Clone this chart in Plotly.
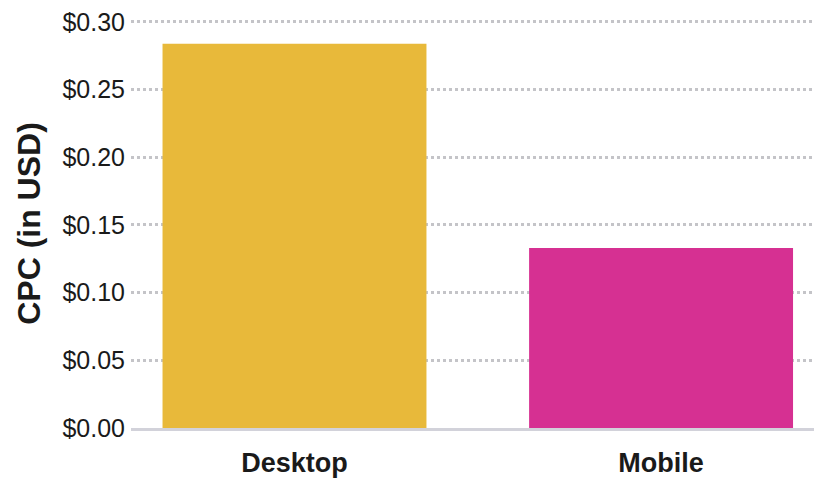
import plotly.graph_objects as go

devices = ['Desktop', 'Mobile']
cpc = [0.284, 0.133]
bar_colors = ['#E8B93A', '#D63092']
y_ticks = [0, 0.05, 0.10, 0.15, 0.20, 0.25, 0.30]

fig = go.Figure(go.Bar(x=devices, y=cpc, marker=dict(color=bar_colors, line=dict(width=0)),
                       width=0.72))

# page body has an 8px margin, so the figure is a bit smaller and shifted
fig.update_layout(
    width=814, height=471,
    margin=dict(l=123, r=0, t=11, b=51, autoexpand=False),
    plot_bgcolor='white', paper_bgcolor='white',
    showlegend=False,
    font=dict(family='Liberation Sans, Arial, sans-serif', color='#1a1a1a'),
)

fig.update_yaxes(
    range=[0, 0.3022], tickvals=y_ticks,
    ticktext=[f'${v:.2f}' for v in y_ticks],
    tickfont=dict(size=25), ticklabeloverflow='allow',
    showgrid=True, gridcolor='#c4c4c8', gridwidth=2.5, griddash='dot',
    zeroline=False, showline=False,
    ticks='', ticklabelstandoff=5,
    title=dict(text='<b>CPC (in USD)</b>', font=dict(size=32), standoff=12),
)

fig.update_xaxes(
    range=[-0.446, 1.439],
    tickfont=dict(size=27), tickprefix='<b>', ticksuffix='</b>',
    ticklabeloverflow='allow',
    showline=True, linecolor='#d2d2da', linewidth=3,
    ticks='', ticklabelstandoff=9,
)

fig.write_html("out.html")
